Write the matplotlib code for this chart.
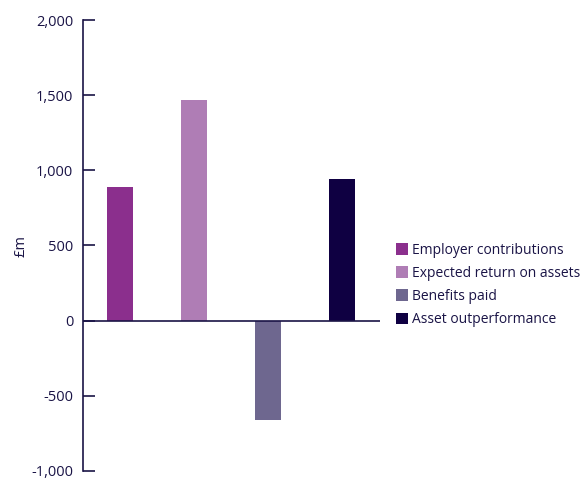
import matplotlib.pyplot as plt
from matplotlib.patches import Patch
import numpy as np

# Pension scheme asset movement components (£m)
categories = ['Employer contributions', 'Expected return on assets',
              'Benefits paid', 'Asset outperformance']
values = [890, 1470, -660, 940]
colors = ['#8b2f8d', '#af7db5', '#6e678f', '#0f0042']
yticks = [-1000, -500, 0, 500, 1000, 1500, 2000]

navy = '#1a1446'
plt.rcParams['font.family'] = ['Open Sans', 'DejaVu Sans']

fig = plt.figure(figsize=(5.82, 4.80), dpi=100)
ax = fig.add_axes([83 / 582, 1 - 471 / 480, (380 - 83) / 582, (471 - 20) / 480])

x = np.arange(len(values))
ax.bar(x, values, width=0.35, color=colors, zorder=2)
ax.axhline(0, color=navy, lw=1.2, zorder=3)

ax.set_xlim(-0.5, 3.51)
ax.set_ylim(-1000, 2000)
ax.set_yticks(yticks)
ax.set_yticklabels([f'{v:,}' for v in yticks], color=navy, fontsize=10.5)
ax.set_xticks([])
ax.tick_params(axis='y', direction='in', length=8.5, width=1.2, color=navy, pad=7)

for s in ['top', 'right', 'bottom']:
    ax.spines[s].set_visible(False)
ax.spines['left'].set_color(navy)
ax.spines['left'].set_linewidth(1.2)

# y label placed in figure coordinates
fig.text(21 / 582, 1 - 246 / 480, '£m', rotation=90, color=navy, fontsize=10.5,
         ha='center', va='center')

handles = [Patch(facecolor=c, edgecolor='none') for c in colors]
fig.legend(handles, categories, loc='center left', bbox_to_anchor=(396 / 582, 1 - 285 / 480),
           frameon=False, fontsize=10, labelcolor=navy, handlelength=0.85, handleheight=0.9,
           handletextpad=0.3, labelspacing=0.58, borderaxespad=0, borderpad=0)

fig.savefig('out.png', dpi=100)
